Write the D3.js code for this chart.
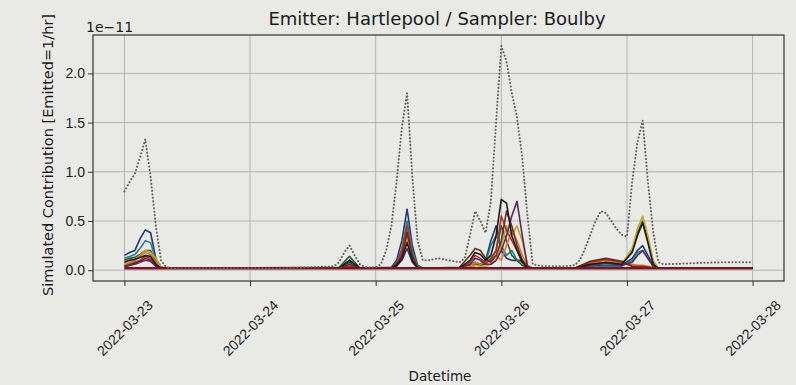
<!DOCTYPE html>
<html>
<head>
<meta charset="utf-8">
<script src="https://cdn.jsdelivr.net/npm/d3@7"></script>
<style>
  body { margin: 0; background: #e9e9e6; }
  svg { display: block; font-family: "DejaVu Sans", sans-serif; }
</style>
</head>
<body>
<div id="chart"></div>
<script>
// hours after 2022-03-23 00:00, values in units of 1e-11
const totalHours = [0,1,2,3,4,5,6,7,8,9,12,18,24,30,36,40,41,42,43,44,45,46,48,49,50,51,52,53,54,55,56,57,58,60,62,64,65,66,67,68,69,70,71,72,73,74,75,76,77,78,80,84,86,87,88,89,90,91,92,93,94,95,96,97,98,99,100,101,102,103,108,114,120];
const totalValues = [0.8,0.9,0.98,1.15,1.33,0.95,0.45,0.1,0.03,0.02,0.02,0.02,0.02,0.02,0.03,0.04,0.08,0.18,0.25,0.15,0.06,0.03,0.03,0.06,0.2,0.45,0.9,1.45,1.8,0.95,0.3,0.1,0.1,0.12,0.1,0.08,0.12,0.35,0.6,0.5,0.38,0.7,1.5,2.28,2.12,1.8,1.55,1.15,0.55,0.06,0.04,0.04,0.05,0.1,0.22,0.36,0.5,0.6,0.58,0.5,0.42,0.36,0.34,0.9,1.3,1.52,0.9,0.4,0.08,0.06,0.07,0.08,0.08];

const sourceHours = [0,1,2,3,4,5,6,7,8,41,43,45,51,52,53,54,55,56,57,64,66,67,68,69,70,71,72,73,74,75,76,77,78,86,89,92,95,97,98,99,100,101,102,120];

const navyValues   = [0.15,0.18,0.2,0.32,0.41,0.38,0.12,0.03,0.02, 0.02,0.08,0.02, 0.03,0.1,0.3,0.62,0.25,0.05,0.02, 0.02,0.05,0.08,0.06,0.1,0.3,0.45,0.2,0.12,0.1,0.1,0.1,0.04,0.02, 0.02,0.04,0.05,0.05,0.12,0.2,0.25,0.15,0.05,0.02,0.02];
const tealValues   = [0.12,0.14,0.16,0.22,0.3,0.28,0.1,0.02,0.02, 0.02,0.1,0.02, 0.02,0.08,0.22,0.5,0.2,0.04,0.02, 0.02,0.03,0.05,0.05,0.08,0.25,0.35,0.25,0.15,0.2,0.1,0.08,0.03,0.02, 0.02,0.03,0.04,0.04,0.1,0.18,0.2,0.12,0.04,0.02,0.02];
const greenValues  = [0.1,0.12,0.13,0.16,0.2,0.2,0.08,0.02,0.02, 0.03,0.14,0.02, 0.02,0.07,0.18,0.4,0.16,0.03,0.02, 0.02,0.04,0.06,0.05,0.06,0.12,0.2,0.45,0.3,0.15,0.1,0.05,0.02,0.02, 0.02,0.05,0.07,0.06,0.2,0.38,0.5,0.3,0.08,0.02,0.02];
const goldValues   = [0.06,0.08,0.1,0.15,0.2,0.18,0.12,0.03,0.02, 0.02,0.05,0.02, 0.02,0.05,0.15,0.3,0.12,0.03,0.02, 0.02,0.03,0.05,0.04,0.04,0.06,0.1,0.25,0.45,0.35,0.45,0.3,0.05,0.02, 0.02,0.06,0.08,0.06,0.22,0.42,0.55,0.35,0.1,0.02,0.02];
const orangeValues = [0.05,0.07,0.1,0.14,0.18,0.16,0.08,0.02,0.02, 0.02,0.04,0.02, 0.02,0.06,0.16,0.35,0.14,0.03,0.02, 0.02,0.04,0.08,0.06,0.08,0.1,0.15,0.1,0.25,0.4,0.3,0.15,0.04,0.02, 0.02,0.07,0.1,0.07,0.06,0.05,0.05,0.04,0.03,0.02,0.02];
const redValues    = [0.04,0.06,0.08,0.1,0.14,0.12,0.06,0.02,0.02, 0.02,0.04,0.02, 0.02,0.07,0.2,0.45,0.15,0.03,0.02, 0.02,0.08,0.15,0.12,0.08,0.1,0.2,0.55,0.4,0.3,0.2,0.1,0.03,0.02, 0.02,0.08,0.11,0.08,0.04,0.04,0.04,0.03,0.02,0.02,0.02];
const brownValues  = [0.03,0.05,0.07,0.09,0.12,0.1,0.05,0.02,0.02, 0.02,0.06,0.02, 0.02,0.06,0.15,0.38,0.14,0.03,0.02, 0.03,0.15,0.22,0.2,0.12,0.08,0.15,0.3,0.6,0.45,0.25,0.1,0.03,0.02, 0.02,0.09,0.12,0.09,0.04,0.03,0.03,0.03,0.02,0.02,0.02];
const purpleValues = [0.04,0.05,0.06,0.08,0.1,0.09,0.04,0.02,0.02, 0.02,0.03,0.02, 0.02,0.04,0.1,0.22,0.08,0.02,0.02, 0.02,0.06,0.12,0.1,0.06,0.06,0.1,0.2,0.35,0.55,0.7,0.35,0.04,0.02, 0.02,0.05,0.07,0.05,0.08,0.15,0.2,0.12,0.04,0.02,0.02];
const blackValues  = [0.08,0.1,0.11,0.13,0.15,0.14,0.06,0.02,0.02, 0.02,0.1,0.02, 0.02,0.05,0.12,0.28,0.1,0.02,0.02, 0.02,0.1,0.18,0.16,0.1,0.15,0.35,0.72,0.68,0.35,0.2,0.08,0.02,0.02, 0.02,0.06,0.08,0.06,0.18,0.35,0.48,0.28,0.06,0.02,0.02];
const baseValues   = [0.02,0.02,0.02,0.02,0.02,0.02,0.02,0.02,0.02, 0.02,0.02,0.02, 0.02,0.02,0.02,0.02,0.02,0.02,0.02, 0.02,0.02,0.02,0.02,0.02,0.02,0.02,0.02,0.02,0.02,0.02,0.02,0.02,0.02, 0.02,0.02,0.02,0.02,0.02,0.02,0.02,0.02,0.02,0.02,0.02];

const sources = [
  { name: 'navy', values: navyValues, color: '#1f3a70' },
  { name: 'teal', values: tealValues, color: '#2b7f8c' },
  { name: 'green', values: greenValues, color: '#2e5e30' },
  { name: 'gold', values: goldValues, color: '#c9a227' },
  { name: 'orange', values: orangeValues, color: '#d9772b' },
  { name: 'red', values: redValues, color: '#b8322b' },
  { name: 'brown', values: brownValues, color: '#6b2a1e' },
  { name: 'purple', values: purpleValues, color: '#5a2a5e' },
  { name: 'black', values: blackValues, color: '#1a1a1a' },
  { name: 'base', values: baseValues, color: '#7a1420' }
];

const tickDays = ['2022-03-23', '2022-03-24', '2022-03-25', '2022-03-26', '2022-03-27', '2022-03-28'];
const yTicks = [0.0, 0.5, 1.0, 1.5, 2.0];

const width = 796, height = 385;
const margin = { top: 35, right: 12, bottom: 104, left: 93 };
const start = new Date(2022, 2, 23, 0, 0);
const toDate = h => new Date(start.getTime() + h * 3600e3);
const parseDay = d3.timeParse('%Y-%m-%d');

const svg = d3.select('#chart').append('svg')
  .attr('width', width)
  .attr('height', height);

const x = d3.scaleTime()
  .domain([toDate(-6), toDate(126)])
  .range([margin.left, width - margin.right]);

const y = d3.scaleLinear()
  .domain([-0.11, 2.39])
  .range([height - margin.bottom, margin.top]);

// grid
const grid = svg.append('g').attr('stroke', '#b4b4b2').attr('stroke-width', 1);
grid.selectAll('.vg')
  .data(tickDays)
  .enter().append('line')
  .attr('x1', d => x(parseDay(d)))
  .attr('x2', d => x(parseDay(d)))
  .attr('y1', margin.top)
  .attr('y2', height - margin.bottom);
grid.selectAll('.hg')
  .data(yTicks)
  .enter().append('line')
  .attr('x1', margin.left)
  .attr('x2', width - margin.right)
  .attr('y1', d => y(d))
  .attr('y2', d => y(d));

// source lines
const line = d3.line()
  .x(d => x(toDate(d[0])))
  .y(d => y(d[1]));

svg.append('g').selectAll('path')
  .data(sources)
  .enter().append('path')
  .attr('d', s => line(sourceHours.map((h, i) => [h, s.values[i]])))
  .attr('fill', 'none')
  .attr('stroke', s => s.color)
  .attr('stroke-width', s => s.name === 'base' ? 2.4 : 1.6)
  .attr('stroke-linejoin', 'round');

// total (dotted)
svg.append('path')
  .attr('d', line(totalHours.map((h, i) => [h, totalValues[i]])))
  .attr('fill', 'none')
  .attr('stroke', '#5f5f5f')
  .attr('stroke-width', 2)
  .attr('stroke-dasharray', '0.1,3.4')
  .attr('stroke-linecap', 'round');

// axes
const xAxis = svg.append('g')
  .attr('transform', `translate(0,${height - margin.bottom})`)
  .call(d3.axisBottom(x)
    .tickValues(tickDays.map(parseDay))
    .tickFormat(d3.timeFormat('%Y-%m-%d'))
    .tickSize(5).tickSizeOuter(0));
// rotated 45 deg, centred under the tick
xAxis.selectAll('text')
  .attr('font-size', 14)
  .attr('fill', '#222')
  .style('text-anchor', 'middle')
  .attr('y', 0)
  .attr('dy', '0.35em')
  .attr('transform', 'translate(0,47) rotate(-45)');

const yAxis = svg.append('g')
  .attr('transform', `translate(${margin.left},0)`)
  .call(d3.axisLeft(y)
    .tickValues(yTicks)
    .tickFormat(d3.format('.1f'))
    .tickSize(5).tickSizeOuter(0));
yAxis.selectAll('text').attr('font-size', 14).attr('fill', '#222');

svg.selectAll('.domain').remove();
svg.selectAll('.tick line').attr('stroke', '#333');

// frame
svg.append('rect')
  .attr('x', margin.left)
  .attr('y', margin.top)
  .attr('width', width - margin.left - margin.right)
  .attr('height', height - margin.top - margin.bottom)
  .attr('fill', 'none')
  .attr('stroke', '#333')
  .attr('stroke-width', 1.2);

// texts
svg.append('text')
  .attr('x', 437).attr('y', 25)
  .attr('text-anchor', 'middle')
  .attr('font-size', 18)
  .attr('fill', '#1a1a1a')
  .text('Emitter: Hartlepool / Sampler: Boulby');

svg.append('text')
  .attr('x', margin.left - 7).attr('y', 32)
  .attr('font-size', 14)
  .attr('fill', '#1a1a1a')
  .text('1e\u221211');

svg.append('text')
  .attr('transform', 'translate(53,155) rotate(-90)')
  .attr('text-anchor', 'middle')
  .attr('font-size', 14.5)
  .attr('fill', '#1a1a1a')
  .text('Simulated Contribution [Emitted=1/hr]');

svg.append('text')
  .attr('x', 440).attr('y', 381)
  .attr('text-anchor', 'middle')
  .attr('font-size', 13.5)
  .attr('fill', '#1a1a1a')
  .text('Datetime');
</script>
</body>
</html>
